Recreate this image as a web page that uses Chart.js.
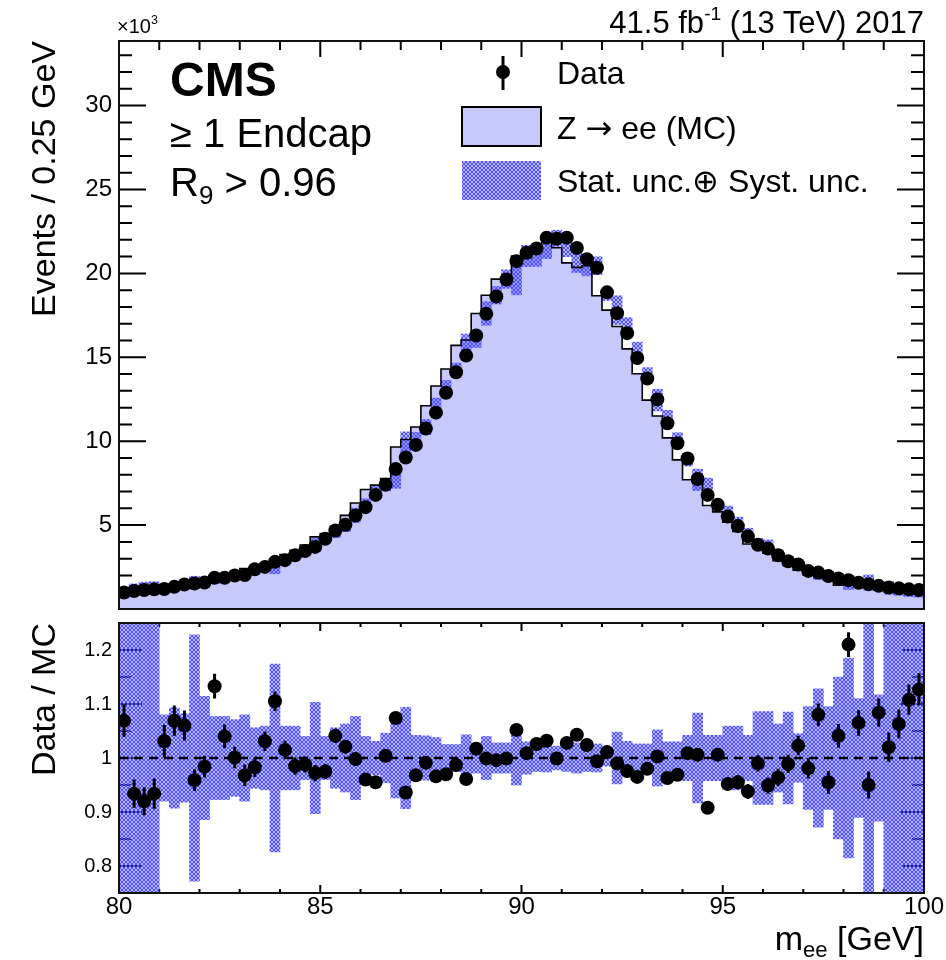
<!DOCTYPE html>
<html>
<head>
<meta charset="utf-8">
<title>Z to ee, endcap, R9 &gt; 0.96</title>
<script src="https://cdn.jsdelivr.net/npm/chart.js@4.4.1/dist/chart.umd.min.js"></script>
<style>
  html, body { margin: 0; padding: 0; background: #fff; }
  #page { position: relative; width: 946px; height: 960px; overflow: hidden;
          font-family: "Liberation Sans", Arial, Helvetica, sans-serif; color: #000; }
  canvas { position: absolute; left: 0; }
  #upper { top: 0; }
  #lower { top: 616px; }
  .lbl { position: absolute; white-space: nowrap; line-height: 1; }
  .sup { position: relative; top: -0.7em; font-size: 0.62em; }
  .sub { position: relative; top: 0.3em; font-size: 0.65em; }
  .sym { font-family: "DejaVu Sans", sans-serif; }
</style>
</head>
<body>
<div id="page">
  <canvas id="upper" width="946" height="616"></canvas>
  <canvas id="lower" width="946" height="344"></canvas>

  <div class="lbl" style="right:22px; top:7px; font-size:31px;">41.5 fb<span class="sup">-1</span> (13 TeV) 2017</div>
  <div class="lbl" style="left:117px; top:16px; font-size:20px;">×10<span class="sup">3</span></div>
  <div class="lbl" style="left:170px; top:56px; font-size:48px; font-weight:bold;">CMS</div>
  <div class="lbl" style="left:170px; top:113px; font-size:40px;">≥ 1 Endcap</div>
  <div class="lbl" style="left:170px; top:162px; font-size:40px;">R<span class="sub">9</span> &gt; 0.96</div>
  <div class="lbl" style="left:557px; top:57px; font-size:32px;">Data</div>
  <div class="lbl" style="left:557px; top:112px; font-size:32px;">Z <span class="sym">→</span> ee (MC)</div>
  <div class="lbl" style="left:557px; top:165px; font-size:32px;">Stat. unc.⊕ Syst. unc.</div>
  <div class="lbl" style="right:22px; top:921px; font-size:34px;">m<span class="sub">ee</span> [GeV]</div>
</div>

<script>
Chart.defaults.font.family = '"Liberation Sans", Arial, sans-serif';
Chart.defaults.color = '#000';

// 80 bins of 0.25 GeV, 80 - 100 GeV
const binEdges = [
  80.00, 80.25, 80.50, 80.75, 81.00, 81.25, 81.50, 81.75,
  82.00, 82.25, 82.50, 82.75, 83.00, 83.25, 83.50, 83.75,
  84.00, 84.25, 84.50, 84.75, 85.00, 85.25, 85.50, 85.75,
  86.00, 86.25, 86.50, 86.75, 87.00, 87.25, 87.50, 87.75,
  88.00, 88.25, 88.50, 88.75, 89.00, 89.25, 89.50, 89.75,
  90.00, 90.25, 90.50, 90.75, 91.00, 91.25, 91.50, 91.75,
  92.00, 92.25, 92.50, 92.75, 93.00, 93.25, 93.50, 93.75,
  94.00, 94.25, 94.50, 94.75, 95.00, 95.25, 95.50, 95.75,
  96.00, 96.25, 96.50, 96.75, 97.00, 97.25, 97.50, 97.75,
  98.00, 98.25, 98.50, 98.75, 99.00, 99.25, 99.50, 99.75,
  100.00
];

// events / 0.25 GeV, in units of 10^3
const dataCounts = [
  0.98, 1.07, 1.13, 1.17, 1.19, 1.32, 1.46, 1.52, 1.58, 1.86,
  1.86, 2.00, 2.02, 2.37, 2.51, 2.81, 2.91, 3.20, 3.46, 3.70,
  4.19, 4.68, 5.02, 5.57, 6.07, 6.80, 7.41, 8.34, 9.03, 9.78,
  10.75, 11.70, 12.89, 14.11, 15.10, 16.30, 17.59, 18.62, 19.64, 20.73,
  21.23, 21.48, 22.13, 22.07, 22.13, 21.52, 20.85, 20.34, 18.87, 17.63,
  16.44, 14.96, 13.74, 12.49, 11.07, 9.88, 8.97, 7.75, 6.80, 6.21,
  5.51, 4.94, 4.33, 3.83, 3.60, 3.20, 2.85, 2.65, 2.27, 2.17,
  1.96, 1.82, 1.72, 1.56, 1.48, 1.38, 1.28, 1.23, 1.17, 1.13
];

const mcCounts = [
  0.92, 1.15, 1.23, 1.25, 1.15, 1.23, 1.38, 1.59, 1.61, 1.64,
  1.79, 2.00, 2.09, 2.41, 2.43, 2.54, 2.87, 3.25, 3.50, 3.81,
  4.30, 4.50, 4.92, 5.58, 6.32, 7.12, 7.38, 7.77, 9.65, 10.10,
  10.85, 12.11, 13.29, 14.30, 15.71, 16.03, 17.61, 18.70, 19.66, 19.71,
  21.04, 20.94, 21.44, 22.09, 21.53, 20.63, 20.36, 20.46, 18.67, 17.81,
  16.84, 15.50, 14.02, 12.45, 11.50, 10.20, 8.89, 7.70, 7.49, 6.17,
  5.79, 5.17, 4.62, 3.87, 3.79, 3.32, 2.88, 2.59, 2.31, 2.01,
  2.05, 1.75, 1.42, 1.46, 1.56, 1.27, 1.25, 1.16, 1.06, 1.00
];

// Data / MC and its error
const ratioValues = [
  1.069, 0.934, 0.920, 0.934, 1.031, 1.069, 1.060, 0.959, 0.984, 1.133,
  1.040, 1.001, 0.968, 0.983, 1.031, 1.105, 1.015, 0.985, 0.988, 0.972,
  0.975, 1.041, 1.021, 0.998, 0.960, 0.955, 1.004, 1.074, 0.936, 0.968,
  0.991, 0.966, 0.970, 0.987, 0.961, 1.017, 0.999, 0.996, 0.999, 1.052,
  1.009, 1.026, 1.032, 0.999, 1.028, 1.043, 1.024, 0.994, 1.011, 0.990,
  0.976, 0.965, 0.980, 1.003, 0.963, 0.969, 1.009, 1.006, 0.908, 1.006,
  0.952, 0.955, 0.938, 0.990, 0.949, 0.964, 0.989, 1.023, 0.981, 1.080,
  0.955, 1.041, 1.210, 1.065, 0.950, 1.084, 1.020, 1.063, 1.108, 1.127
];

const ratioErrors = [
  0.030, 0.026, 0.026, 0.028, 0.030, 0.028, 0.028, 0.020, 0.020, 0.023,
  0.022, 0.020, 0.020, 0.018, 0.018, 0.018, 0.017, 0.016, 0.015, 0.015,
  0.014, 0.013, 0.012, 0.012, 0.011, 0.010, 0.010, 0.010, 0.009, 0.009,
  0.008, 0.008, 0.008, 0.007, 0.007, 0.007, 0.007, 0.007, 0.007, 0.007,
  0.007, 0.007, 0.007, 0.007, 0.007, 0.007, 0.007, 0.007, 0.007, 0.007,
  0.007, 0.007, 0.008, 0.008, 0.008, 0.009, 0.009, 0.010, 0.011, 0.011,
  0.012, 0.013, 0.014, 0.015, 0.015, 0.016, 0.017, 0.018, 0.019, 0.021,
  0.021, 0.022, 0.023, 0.024, 0.025, 0.026, 0.027, 0.027, 0.028, 0.030
];

// half width of the stat. (+) syst. band, relative to MC
const bandHalfWidth = [
  0.300, 0.300, 0.300, 0.300, 0.080, 0.093, 0.082, 0.228, 0.114, 0.077,
  0.077, 0.071, 0.080, 0.056, 0.059, 0.174, 0.059, 0.059, 0.040, 0.103,
  0.040, 0.056, 0.063, 0.077, 0.040, 0.031, 0.046, 0.074, 0.094, 0.042,
  0.041, 0.038, 0.025, 0.025, 0.043, 0.028, 0.040, 0.028, 0.028, 0.050,
  0.030, 0.025, 0.026, 0.022, 0.025, 0.028, 0.025, 0.026, 0.015, 0.048,
  0.031, 0.026, 0.026, 0.052, 0.030, 0.030, 0.042, 0.083, 0.042, 0.042,
  0.059, 0.059, 0.042, 0.086, 0.086, 0.063, 0.085, 0.045, 0.095, 0.128,
  0.095, 0.150, 0.185, 0.110, 0.300, 0.117, 0.300, 0.300, 0.300, 0.300
];

const upperYTicks = [5, 10, 15, 20, 25, 30];
const ratioYTicks = [0.8, 0.9, 1, 1.1, 1.2];
const massTicks = [80, 85, 90, 95, 100];

const mcFill = 'rgb(199, 201, 251)';

const binCenters = binEdges.slice(0, -1).map((e, i) => (e + binEdges[i + 1]) / 2);

// ROOT-like hatch for the uncertainty band
const makeHatch = (ctx) => {
  const tile = document.createElement('canvas');
  tile.width = 4;
  tile.height = 4;
  const t = tile.getContext('2d');
  t.fillStyle = 'rgba(80, 80, 255, 0.42)';
  t.fillRect(0, 0, 4, 4);
  t.fillStyle = 'rgb(80, 80, 255)';
  [[0, 0], [1, 1], [2, 2], [3, 3], [3, 0], [2, 1], [1, 2], [0, 3]].forEach(([x, y]) => t.fillRect(x, y, 1, 1));
  return ctx.createPattern(tile, 'repeat');
};

const upperCtx = document.getElementById('upper').getContext('2d');
const lowerCtx = document.getElementById('lower').getContext('2d');
const hatchUpper = makeHatch(upperCtx);
const hatchLower = makeHatch(lowerCtx);

// inward ROOT style ticks + frame
const drawTicks = (chart, t) => {
  const { ctx, chartArea: a, scales: { x, y } } = chart;
  ctx.save();
  ctx.strokeStyle = '#000';
  ctx.lineWidth = 2;
  ctx.beginPath();
  for (let m = 80; m <= 100; m++) {
    const px = x.getPixelForValue(m);
    const len = m % 5 === 0 ? t.xMajor : t.xMinor;
    ctx.moveTo(px, a.top);
    ctx.lineTo(px, a.top + len);
    if (t.bottom) {
      ctx.moveTo(px, a.bottom);
      ctx.lineTo(px, a.bottom - len);
    }
  }
  for (let k = 0; k <= t.yCount; k++) {
    const py = y.getPixelForValue(t.yStart + k * t.yStep);
    const len = k % t.yEvery === t.yPhase ? t.yMajor : t.yMinor;
    ctx.moveTo(a.left, py);
    ctx.lineTo(a.left + len, py);
    ctx.moveTo(a.right, py);
    ctx.lineTo(a.right - len, py);
  }
  ctx.stroke();
  ctx.restore();
};

const drawFrame = (chart) => {
  const { ctx, chartArea: a } = chart;
  ctx.save();
  ctx.strokeStyle = '#111';
  ctx.lineWidth = 2;
  ctx.strokeRect(a.left, a.top, a.right - a.left, a.bottom - a.top);
  ctx.restore();
};

const upperTicks = { xMajor: 16, xMinor: 9, bottom: false, yStart: 0, yStep: 1, yCount: 33, yEvery: 5, yPhase: 0, yMajor: 27, yMinor: 13 };
const lowerTicks = { xMajor: 8, xMinor: 4, bottom: true, yStart: 0.75, yStep: 0.05, yCount: 10, yEvery: 2, yPhase: 1, yMajor: 23, yMinor: 12 };

const upperDecor = {
  id: 'upperDecor',
  afterDatasetsDraw(chart) {
    drawTicks(chart, upperTicks);
    drawFrame(chart);
    const ctx = chart.ctx;
    ctx.save();
    // legend glyphs
    ctx.strokeStyle = '#000';
    ctx.lineWidth = 3;
    ctx.beginPath();
    ctx.moveTo(503, 56);
    ctx.lineTo(503, 90);
    ctx.stroke();
    ctx.fillStyle = '#000';
    ctx.beginPath();
    ctx.arc(503, 72, 7, 0, Math.PI * 2);
    ctx.fill();
    ctx.fillStyle = mcFill;
    ctx.fillRect(462, 107, 79, 39);
    ctx.lineWidth = 2;
    ctx.strokeRect(462, 107, 79, 39);
    ctx.fillStyle = hatchUpper;
    ctx.fillRect(462, 161, 79, 39);
    ctx.restore();
  }
};

const lowerDecor = {
  id: 'lowerDecor',
  beforeDatasetsDraw(chart) {
    drawTicks(chart, lowerTicks);
  },
  afterDatasetsDraw(chart) {
    const { ctx, chartArea: a, scales: { x, y } } = chart;
    ctx.save();
    ctx.beginPath();
    ctx.rect(a.left, a.top, a.right - a.left, a.bottom - a.top);
    ctx.clip();
    ctx.strokeStyle = '#000';
    ctx.lineWidth = 3;
    ctx.beginPath();
    binCenters.forEach((c, i) => {
      const px = x.getPixelForValue(c);
      ctx.moveTo(px, y.getPixelForValue(ratioValues[i] - ratioErrors[i]));
      ctx.lineTo(px, y.getPixelForValue(ratioValues[i] + ratioErrors[i]));
    });
    ctx.stroke();
    ctx.restore();
    drawFrame(chart);
  }
};

const tickLabel = (v) => String(+Number(v).toFixed(2));

// keep the plotting area exactly where the axis box says it is
const fixY = (s) => { s.width = 119; s.paddingTop = 0; s.paddingBottom = 0; };
const fixX = (s) => { s.height = 67; s.paddingLeft = 0; s.paddingRight = 0; };

new Chart(upperCtx, {
  type: 'bar',
  data: {
    datasets: [
      {
        type: 'scatter',
        label: 'Data',
        data: binCenters.map((c, i) => ({ x: c, y: dataCounts[i] })),
        pointRadius: 7,
        pointBorderWidth: 0,
        pointBackgroundColor: '#000',
        order: 0
      },
      {
        type: 'line',
        label: 'Z → ee (MC)',
        data: binEdges.map((e, i) => ({ x: e, y: mcCounts[Math.min(i, mcCounts.length - 1)] })),
        stepped: 'after',
        fill: 'origin',
        backgroundColor: mcFill,
        borderColor: '#000',
        borderWidth: 1.6,
        pointRadius: 0,
        order: 1
      },
      {
        type: 'bar',
        label: 'Stat. unc.⊕ Syst. unc.',
        data: binCenters.map((c, i) => ({
          x: c,
          y: [mcCounts[i] * (1 - bandHalfWidth[i]), mcCounts[i] * (1 + bandHalfWidth[i])]
        })),
        backgroundColor: hatchUpper,
        borderWidth: 0,
        barPercentage: 1,
        categoryPercentage: 1,
        grouped: false,
        clip: 0,
        order: 2
      }
    ]
  },
  options: {
    responsive: false,
    animation: false,
    events: [],
    layout: { padding: { top: 41, right: 22, bottom: 4, left: 0 } },
    plugins: {
      legend: { display: false },
      tooltip: { enabled: false },
      filler: { drawTime: 'beforeDatasetsDraw' }
    },
    scales: {
      x: { type: 'linear', min: 80, max: 100, offset: false, display: false },
      y: {
        type: 'linear',
        min: 0,
        max: 33.85,
        afterBuildTicks: (s) => { s.ticks = upperYTicks.map((v) => ({ value: v })); },
        afterFit: fixY,
        grid: { display: false, drawTicks: false },
        border: { display: false },
        ticks: { font: { size: 24 }, color: '#000', padding: 7, callback: tickLabel },
        title: {
          display: true,
          text: 'Events / 0.25 GeV',
          align: 'end',
          color: '#000',
          font: { size: 34 },
          padding: { top: 25, bottom: 0 }
        }
      }
    }
  },
  plugins: [upperDecor]
});

new Chart(lowerCtx, {
  type: 'bar',
  data: {
    datasets: [
      {
        type: 'scatter',
        label: 'Data / MC',
        data: binCenters.map((c, i) => ({ x: c, y: ratioValues[i] })),
        pointRadius: 7,
        pointBorderWidth: 0,
        pointBackgroundColor: '#000',
        clip: 0,
        order: 0
      },
      {
        type: 'line',
        label: 'unity',
        data: [{ x: massTicks[0], y: 1 }, { x: massTicks[massTicks.length - 1], y: 1 }],
        borderColor: '#000',
        borderWidth: 2.5,
        borderDash: [9, 6],
        pointRadius: 0,
        fill: false,
        order: 1
      },
      {
        type: 'bar',
        label: 'band',
        data: binCenters.map((c, i) => ({ x: c, y: [1 - bandHalfWidth[i], 1 + bandHalfWidth[i]] })),
        backgroundColor: hatchLower,
        borderWidth: 0,
        barPercentage: 1,
        categoryPercentage: 1,
        grouped: false,
        clip: 0,
        order: 2
      }
    ]
  },
  options: {
    responsive: false,
    animation: false,
    events: [],
    layout: { padding: { top: 6, right: 22, bottom: 0, left: 0 } },
    plugins: {
      legend: { display: false },
      tooltip: { enabled: false }
    },
    scales: {
      x: {
        type: 'linear',
        min: 80,
        max: 100,
        offset: false,
        afterBuildTicks: (s) => { s.ticks = massTicks.map((v) => ({ value: v })); },
        afterFit: fixX,
        grid: { display: false, drawTicks: false },
        border: { display: false },
        ticks: { font: { size: 24 }, color: '#000', padding: 0, maxRotation: 0, autoSkip: false, callback: tickLabel }
      },
      y: {
        type: 'linear',
        min: 0.75,
        max: 1.25,
        afterBuildTicks: (s) => { s.ticks = ratioYTicks.map((v) => ({ value: v })); },
        afterFit: fixY,
        grid: { display: false, drawTicks: false },
        border: { display: false },
        ticks: { font: { size: 20 }, color: '#000', padding: 7, callback: tickLabel },
        title: {
          display: true,
          text: 'Data / MC',
          align: 'end',
          color: '#000',
          font: { size: 34 },
          padding: { top: 25, bottom: 0 }
        }
      }
    }
  },
  plugins: [lowerDecor]
});
</script>
</body>
</html>
